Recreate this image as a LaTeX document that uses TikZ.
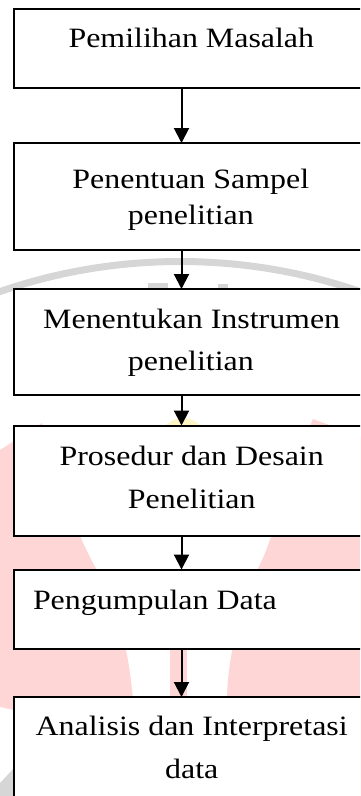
\documentclass[tikz,border=0pt]{standalone}
\usepackage{fontspec}
\setmainfont{Liberation Serif}[FakeStretch=1.14]
\usetikzlibrary{arrows.meta}
\definecolor{wmpink}{HTML}{FFD6D6}
\definecolor{wmgray}{HTML}{D6D6D6}
\definecolor{wmyellow}{HTML}{FFF6C8}
\tikzset{
  flowbox/.style={draw=black, fill=white, line width=2pt, rectangle, inner sep=0pt, outer sep=0pt, minimum width=358pt},
  boxtext/.style={anchor=base, inner sep=0pt, outer sep=0pt, font=\fontsize{28}{34}\selectfont},
  flowarrow/.style={line width=2pt, -{Triangle[width=15pt,length=15pt]}},
}
\begin{document}
\begin{tikzpicture}[x=1pt,y=-1pt]
\useasboundingbox (0,0) rectangle (360,796);
\clip (0,0) rectangle (360,796);
% faint watermark
\draw[wmgray, line width=7pt] (180,813) circle[radius=551.5pt];
\fill[wmgray] (148,283) rectangle (168,292);
\fill[wmgray] (218,284) rectangle (228,292);
\fill[wmyellow] (183,442) ellipse[x radius=24pt, y radius=24pt];
\fill[wmpink] (0,450) -- (42,423) .. controls (60,470) and (68,520) .. (97,570)
  .. controls (115,605) and (128,640) .. (133,700) -- (60,720) -- (0,707) -- cycle;
\fill[wmpink] (313,419) -- (370,440) -- (370,800) -- (226,800) -- (227,697)
  .. controls (228,655) and (240,610) .. (257,570) .. controls (272,545) and (290,470) .. (313,419) -- cycle;
\fill[wmpink] (170,640) rectangle (187,700);
\fill[wmgray] (0,783) -- (14,768) -- (14,796) -- (0,796) -- cycle;
% boxes
\node[flowbox, minimum height=79pt]   (b1) at (193,48.5) {};
\node[flowbox, minimum height=107pt]  (b2) at (193,196.5) {};
\node[flowbox, minimum height=106pt]  (b3) at (193,342) {};
\node[flowbox, minimum height=110.5pt](b4) at (193,480.75) {};
\node[flowbox, minimum height=79.5pt] (b5) at (193,609.25) {};
\node[flowbox, minimum height=133pt]  (b6) at (193,763.5) {};
% arrows
\coordinate (ax) at (181.5,0);
\draw[flowarrow] (b1.south -| ax) -- (b2.north -| ax);
\draw[flowarrow] (b2.south -| ax) -- (b3.north -| ax);
\draw[flowarrow] (b3.south -| ax) -- (b4.north -| ax);
\draw[flowarrow] (b4.south -| ax) -- (b5.north -| ax);
\draw[flowarrow] (b5.south -| ax) -- (b6.north -| ax);
% texts
\node[boxtext] (t1)  at (191.3,47.7)  {Pemilihan Masalah};
\node[boxtext] (t2a) at (190.8,188.3) {Penentuan Sampel};
\node[boxtext] (t2b) at (190.8,224)   {penelitian};
\node[boxtext] (t3a) at (191.7,328.3) {Menentukan Instrumen};
\node[boxtext] (t3b) at (190.8,370)   {penelitian};
\node[boxtext] (t4a) at (191.7,465)   {Prosedur dan Desain};
\node[boxtext] (t4b) at (191.7,508.3) {Penelitian};
\node[boxtext, anchor=base west] (t5) at (33,609.3) {Pengumpulan Data};
\node[boxtext] (t6a) at (191.7,735)   {Analisis dan Interpretasi};
\node[boxtext] (t6b) at (191.7,778.3) {data};
\end{tikzpicture}
\end{document}
